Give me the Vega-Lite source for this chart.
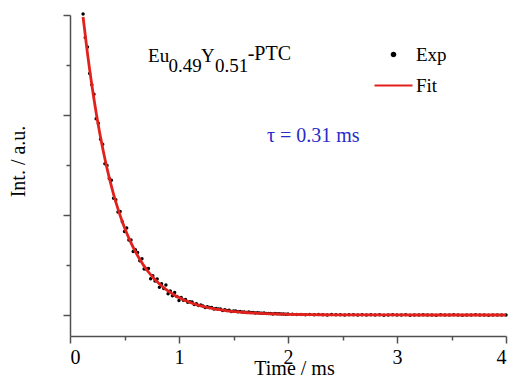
{
  "$schema": "https://vega.github.io/schema/vega-lite/v6.json",
  "autosize": "none",
  "width": 436,
  "height": 321,
  "padding": {"left": 70, "top": 15, "right": 11, "bottom": 47},
  "background": "white",
  "config": {
    "font": "Liberation Serif",
    "view": {"stroke": null},
    "axis": {
      "grid": false,
      "domainColor": "#505050",
      "domainWidth": 1.5,
      "tickColor": "#505050",
      "tickWidth": 1.5,
      "labelFont": "Liberation Serif",
      "labelFontSize": 20,
      "labelColor": "black",
      "titleFont": "Liberation Serif",
      "titleFontSize": 20,
      "titleFontWeight": "normal",
      "titleColor": "black"
    }
  },
  "datasets": {
    "exp": [
      {"t":0.12,"i":3.010},{"t":0.14,"i":2.774},{"t":0.16,"i":2.679},{"t":0.18,"i":2.415},{"t":0.20,"i":2.302},
      {"t":0.22,"i":2.208},{"t":0.24,"i":1.963},{"t":0.26,"i":1.917},{"t":0.28,"i":1.758},{"t":0.30,"i":1.707},
      {"t":0.32,"i":1.513},{"t":0.34,"i":1.495},{"t":0.36,"i":1.364},{"t":0.38,"i":1.348},{"t":0.40,"i":1.167},
      {"t":0.42,"i":1.152},{"t":0.44,"i":1.031},{"t":0.46,"i":1.035},{"t":0.48,"i":0.933},{"t":0.50,"i":0.835},
      {"t":0.52,"i":0.870},{"t":0.54,"i":0.749},{"t":0.56,"i":0.751},{"t":0.58,"i":0.636},{"t":0.60,"i":0.653},
      {"t":0.62,"i":0.624},{"t":0.64,"i":0.543},{"t":0.66,"i":0.562},{"t":0.68,"i":0.461},{"t":0.70,"i":0.459},
      {"t":0.72,"i":0.466},{"t":0.74,"i":0.363},{"t":0.76,"i":0.392},{"t":0.78,"i":0.340},{"t":0.80,"i":0.360},
      {"t":0.82,"i":0.277},{"t":0.84,"i":0.312},{"t":0.86,"i":0.266},{"t":0.88,"i":0.299},{"t":0.90,"i":0.213},
      {"t":0.92,"i":0.240},{"t":0.94,"i":0.192},{"t":0.96,"i":0.226},{"t":0.98,"i":0.186},{"t":1.00,"i":0.146},
      {"t":1.02,"i":0.175},{"t":1.04,"i":0.148},{"t":1.06,"i":0.154},{"t":1.08,"i":0.127},{"t":1.10,"i":0.132},
      {"t":1.12,"i":0.130},{"t":1.14,"i":0.105},{"t":1.16,"i":0.113},{"t":1.18,"i":0.094},{"t":1.20,"i":0.101},
      {"t":1.22,"i":0.091},{"t":1.24,"i":0.076},{"t":1.26,"i":0.083},{"t":1.28,"i":0.074},{"t":1.30,"i":0.075},
      {"t":1.32,"i":0.059},{"t":1.34,"i":0.065},{"t":1.36,"i":0.059},{"t":1.38,"i":0.059},{"t":1.40,"i":0.046},
      {"t":1.42,"i":0.052},{"t":1.44,"i":0.046},{"t":1.46,"i":0.048},{"t":1.48,"i":0.036},{"t":1.50,"i":0.041},
      {"t":1.52,"i":0.041},{"t":1.54,"i":0.033},{"t":1.56,"i":0.036},{"t":1.58,"i":0.031},{"t":1.60,"i":0.031},
      {"t":1.62,"i":0.026},{"t":1.64,"i":0.029},{"t":1.66,"i":0.024},{"t":1.68,"i":0.025},{"t":1.70,"i":0.019},
      {"t":1.72,"i":0.022},{"t":1.74,"i":0.020},{"t":1.76,"i":0.017},{"t":1.78,"i":0.019},{"t":1.80,"i":0.014},
      {"t":1.82,"i":0.016},{"t":1.84,"i":0.015},{"t":1.86,"i":0.011},{"t":1.88,"i":0.014},{"t":1.90,"i":0.012},
      {"t":1.92,"i":0.012},{"t":1.94,"i":0.009},{"t":1.96,"i":0.011},{"t":1.98,"i":0.007},{"t":2.00,"i":0.009},
      {"t":2.04,"i":0.008},{"t":2.08,"i":0.004},{"t":2.12,"i":0.006},{"t":2.16,"i":0.003},{"t":2.20,"i":0.005},
      {"t":2.24,"i":0.002},{"t":2.28,"i":0.004},{"t":2.32,"i":0.003},{"t":2.36,"i":0.001},{"t":2.40,"i":0.004},
      {"t":2.44,"i":0.002},{"t":2.48,"i":0.003},{"t":2.52,"i":0.000},{"t":2.56,"i":0.003},{"t":2.60,"i":0.002},
      {"t":2.64,"i":-0.001},{"t":2.68,"i":0.002},{"t":2.72,"i":0.001},{"t":2.76,"i":0.003},{"t":2.80,"i":0.000},
      {"t":2.84,"i":0.002},{"t":2.88,"i":-0.002},{"t":2.92,"i":0.001},{"t":2.96,"i":0.002},{"t":3.00,"i":-0.001},
      {"t":3.04,"i":0.001},{"t":3.08,"i":0.002},{"t":3.12,"i":-0.002},{"t":3.16,"i":0.001},{"t":3.20,"i":0.000},
      {"t":3.24,"i":0.002},{"t":3.28,"i":-0.001},{"t":3.32,"i":0.001},{"t":3.36,"i":-0.002},{"t":3.40,"i":0.002},
      {"t":3.44,"i":0.000},{"t":3.48,"i":-0.001},{"t":3.52,"i":0.002},{"t":3.56,"i":0.000},{"t":3.60,"i":-0.002},
      {"t":3.64,"i":0.001},{"t":3.68,"i":0.000},{"t":3.72,"i":0.002},{"t":3.76,"i":-0.001},{"t":3.80,"i":0.001},
      {"t":3.84,"i":-0.002},{"t":3.88,"i":0.001},{"t":3.92,"i":0.000},{"t":3.96,"i":-0.001},{"t":4.00,"i":0.001}
    ],
    "fit": [
      {"t":0.12,"i":2.980},{"t":0.16,"i":2.619},{"t":0.20,"i":2.302},{"t":0.24,"i":2.023},{"t":0.28,"i":1.778},
      {"t":0.32,"i":1.563},{"t":0.36,"i":1.374},{"t":0.40,"i":1.207},{"t":0.44,"i":1.061},{"t":0.48,"i":0.933},
      {"t":0.52,"i":0.820},{"t":0.56,"i":0.721},{"t":0.60,"i":0.633},{"t":0.64,"i":0.557},{"t":0.68,"i":0.489},
      {"t":0.72,"i":0.430},{"t":0.76,"i":0.378},{"t":0.80,"i":0.332},{"t":0.84,"i":0.292},{"t":0.88,"i":0.257},
      {"t":0.92,"i":0.226},{"t":0.96,"i":0.198},{"t":1.00,"i":0.174},{"t":1.04,"i":0.153},{"t":1.08,"i":0.135},
      {"t":1.12,"i":0.118},{"t":1.16,"i":0.104},{"t":1.20,"i":0.091},{"t":1.24,"i":0.080},{"t":1.28,"i":0.071},
      {"t":1.32,"i":0.062},{"t":1.36,"i":0.055},{"t":1.40,"i":0.048},{"t":1.44,"i":0.042},{"t":1.48,"i":0.037},
      {"t":1.52,"i":0.033},{"t":1.56,"i":0.029},{"t":1.60,"i":0.025},{"t":1.70,"i":0.018},{"t":1.80,"i":0.013},
      {"t":1.90,"i":0.010},{"t":2.00,"i":0.007},{"t":2.20,"i":0.004},{"t":2.40,"i":0.002},{"t":2.60,"i":0.001},
      {"t":2.80,"i":0.0005},{"t":3.00,"i":0.0003},{"t":3.50,"i":0.0001},{"t":4.00,"i":0.0}
    ]
  },
  "layer": [
    {
      "data": {"name": "exp"},
      "transform": [{"calculate": "'Exp'", "as": "series"}],
      "mark": {"type": "point", "filled": true, "opacity": 1},
      "encoding": {
        "x": {
          "field": "t", "type": "quantitative",
          "scale": {"domain": [0, 4], "nice": false, "zero": false},
          "axis": {
            "title": "Time / ms",
            "values": [0, 0.5, 1, 1.5, 2, 2.5, 3, 3.5, 4],
            "labelExpr": "datum.value % 1 === 0 ? format(datum.value, 'd') : ''",
            "tickSize": {"condition": {"test": "datum.value % 1 === 0", "value": 7}, "value": 4},
            "labelPadding": 4,
            "titleX": 224,
            "titleY": 38,
            "titleBaseline": "alphabetic",
            "titleAnchor": "middle",
            "titleAlign": "center"
          }
        },
        "y": {
          "field": "i", "type": "quantitative",
          "scale": {"domain": [-0.21, 3], "nice": false, "zero": false},
          "axis": {
            "title": "Int. / a.u.",
            "values": [0, 0.5, 1, 1.5, 2, 2.5, 3],
            "labels": false,
            "tickSize": {"condition": {"test": "datum.value % 1 === 0", "value": 7}, "value": 4},
            "titleX": -52,
            "titleY": 146,
            "titleAngle": -90,
            "titleAlign": "center",
            "titleBaseline": "middle"
          }
        },
        "color": {
          "field": "series", "type": "nominal",
          "scale": {"domain": ["Exp", "Fit"], "range": ["black", "#e3211c"]},
          "legend": {
            "orient": "none",
            "legendX": 303,
            "legendY": 30,
            "title": null,
            "padding": 0,
            "labelFont": "Liberation Serif",
            "labelFontSize": 19,
            "labelColor": "black",
            "labelOffset": 2,
            "rowPadding": -17,
            "symbolStrokeWidth": 2.2
          }
        },
        "shape": {
          "field": "series", "type": "nominal",
          "scale": {"domain": ["Exp", "Fit"], "range": ["circle", "stroke"]},
          "legend": {
            "orient": "none",
            "legendX": 303,
            "legendY": 30,
            "title": null
          }
        },
        "size": {
          "field": "series", "type": "nominal",
          "scale": {"domain": ["Exp", "Fit"], "range": [12, 1444]},
          "legend": {
            "orient": "none",
            "legendX": 303,
            "legendY": 30,
            "title": null
          }
        }
      }
    },
    {
      "data": {"name": "fit"},
      "transform": [{"calculate": "'Fit'", "as": "series"}],
      "mark": {"type": "line", "strokeWidth": 2.8, "interpolate": "monotone"},
      "encoding": {
        "x": {"field": "t", "type": "quantitative"},
        "y": {"field": "i", "type": "quantitative"},
        "color": {"field": "series", "type": "nominal"}
      }
    },
    {
      "data": {"values": [{}]},
      "mark": {"type": "text", "text": "Eu", "fontSize": 19, "align": "left", "baseline": "alphabetic", "color": "black"},
      "encoding": {"x": {"datum": 0.716}, "y": {"datum": 2.53}}
    },
    {
      "data": {"values": [{}]},
      "mark": {"type": "text", "text": "0.49", "fontSize": 19, "align": "left", "baseline": "alphabetic", "color": "black"},
      "encoding": {"x": {"datum": 0.903}, "y": {"datum": 2.43}}
    },
    {
      "data": {"values": [{}]},
      "mark": {"type": "text", "text": "Y", "fontSize": 19, "align": "left", "baseline": "alphabetic", "color": "black"},
      "encoding": {"x": {"datum": 1.202}, "y": {"datum": 2.53}}
    },
    {
      "data": {"values": [{}]},
      "mark": {"type": "text", "text": "0.51", "fontSize": 19, "align": "left", "baseline": "alphabetic", "color": "black"},
      "encoding": {"x": {"datum": 1.33}, "y": {"datum": 2.43}}
    },
    {
      "data": {"values": [{}]},
      "mark": {"type": "text", "text": "-PTC", "fontSize": 20, "align": "left", "baseline": "alphabetic", "color": "black"},
      "encoding": {"x": {"datum": 1.63}, "y": {"datum": 2.55}}
    },
    {
      "data": {"values": [{}]},
      "mark": {"type": "text", "text": "τ = 0.31 ms", "fontSize": 20, "align": "left", "baseline": "alphabetic", "color": "#2a2ac8"},
      "encoding": {"x": {"datum": 1.807}, "y": {"datum": 1.73}}
    }
  ]
}
